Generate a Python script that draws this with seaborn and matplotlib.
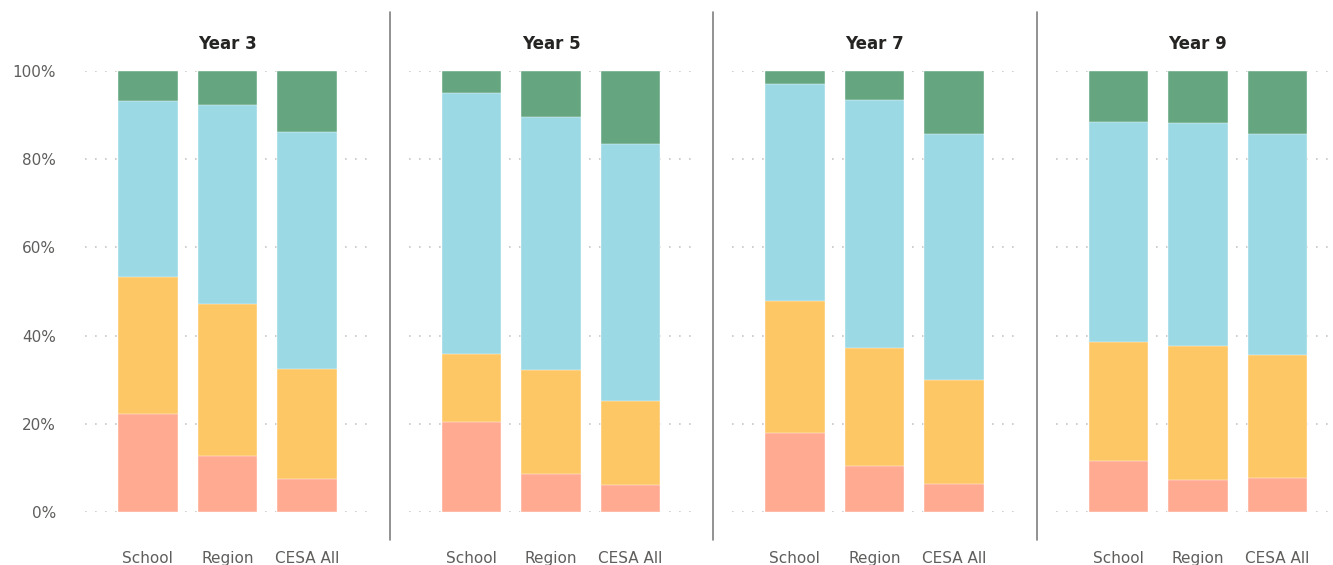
import matplotlib
matplotlib.use("Agg")
import matplotlib.pyplot as plt
from matplotlib.lines import Line2D
import seaborn as sns
import pandas as pd

years = ["Year 3", "Year 5", "Year 7", "Year 9"]
groups = ["School", "Region", "CESA All"]

# share of students in each band (%), bottom band first, per year: School, Region, CESA All
band_red = [22.3, 12.7, 7.4, 20.5, 8.6, 6.2, 17.9, 10.4, 6.4, 11.6, 7.3, 7.7]
band_yellow = [31.1, 34.4, 25.1, 15.4, 23.5, 19.0, 29.9, 26.8, 23.5, 26.9, 30.4, 28.0]
band_blue = [39.9, 45.3, 53.7, 59.0, 57.5, 58.2, 49.3, 56.3, 55.9, 50.0, 50.4, 50.1]
band_green = [6.7, 7.6, 13.8, 5.1, 10.4, 16.6, 2.9, 6.5, 14.2, 11.5, 11.9, 14.2]

bands = ["red", "yellow", "blue", "green"]
band_colors = {"red": "#FFAA91", "yellow": "#FEC766", "blue": "#9BD9E5", "green": "#65A681"}

df = pd.DataFrame({
    "year": [y for y in years for _ in groups],
    "group": groups * len(years),
    "red": band_red,
    "yellow": band_yellow,
    "blue": band_blue,
    "green": band_green,
})
# cumulative tops for stacking
cum = df[bands].cumsum(axis=1) / 100.0
for b in bands:
    df[b + "_top"] = cum[b]

sns.set_style("white")
plt.rcParams["font.family"] = ["DejaVu Sans"]

W, H = 1333, 565
fig = plt.figure(figsize=(W / 100, H / 100), dpi=100)

ax_bottom = (H - 512) / H
ax_height = 441 / H
ax_width = 285 / W

for i, year in enumerate(years):
    left = (85 + 323.5 * i) / W
    ax = fig.add_axes([left, ax_bottom, ax_width, ax_height])
    data = df[df["year"] == year]

    # draw from the tallest cumulative layer down so each band shows
    for b in reversed(bands):
        sns.barplot(data=data, x="group", y=b + "_top", order=groups, color=band_colors[b],
                    saturation=1, width=0.75, edgecolor="white", linewidth=0.3, ax=ax, zorder=3)

    ax.set_ylim(0, 1)
    ax.set_xlim(-0.79, 2.79)
    ax.set_yticks([0, 0.2, 0.4, 0.6, 0.8, 1.0])
    ax.grid(axis="y", color="#C8C6C4", linestyle=(0, (1, 5)), linewidth=1.2, zorder=0)
    ax.grid(axis="x", visible=False)
    ax.set_axisbelow(True)
    for s in ax.spines.values():
        s.set_visible(False)
    ax.set_xlabel("")
    ax.set_ylabel("")
    ax.tick_params(axis="both", length=0)
    ax.tick_params(axis="x", pad=28, labelsize=11, labelcolor="#605E5C")
    if i == 0:
        ax.set_yticklabels(["0%", "20%", "40%", "60%", "80%", "100%"])
        ax.tick_params(axis="y", pad=21, labelsize=11, labelcolor="#605E5C")
    else:
        ax.set_yticklabels([])
    ax.set_title(year, fontsize=12, fontweight="bold", color="#252423", pad=16)

# panel separators
for x in [390, 713, 1037]:
    fig.add_artist(Line2D([x / W, x / W], [1 - 12 / H, 1 - 540 / H],
                          color="#7F7F7F", linewidth=1.2))

fig.savefig("out.png", dpi=100, facecolor="white")
